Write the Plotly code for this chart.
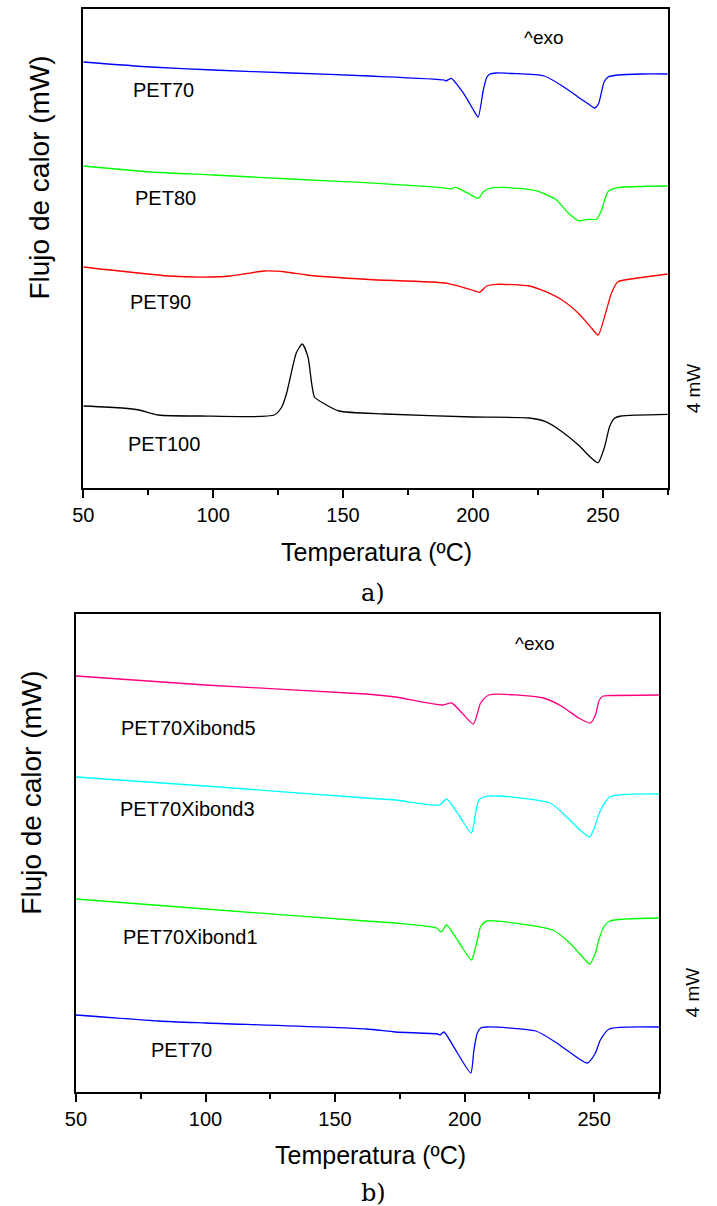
import plotly.graph_objects as go

# ---------------- Panel a) data (temperature in ºC, heat flow in arbitrary units, offset curves) ----------------
t_a_pet70 = [50, 76, 100, 130, 160, 188.9, 189.6, 191.6, 196.4, 200.2, 202, 204, 205.3, 206.6, 209, 215, 227.5, 235, 241, 244.5, 246.9, 248.3, 249.5, 250.5, 252, 255.8, 265, 275]
f_a_pet70 = [426, 421, 418, 415, 412, 408, 407, 409.7, 394.7, 378, 371, 398, 410.5, 414, 415, 414.5, 412, 401, 390, 384, 380, 384, 396, 406, 411, 413, 414, 414]

t_a_pet80 = [50, 76, 100, 130, 158.6, 190.1, 191.6, 193.3, 197.7, 202.1, 204, 206.6, 211.6, 224.2, 231.8, 236.8, 240.6, 244.4, 247.6, 249.5, 250.7, 252.0, 255.8, 275]
f_a_pet80 = [322, 316, 313, 309, 305.3, 299.7, 299, 300.7, 295.3, 289.7, 296.3, 299.7, 300.7, 297.3, 288.7, 274.7, 267.3, 268.7, 268.7, 278, 288, 296.3, 300.3, 302]

t_a_pet90 = [50, 83, 99, 106.7, 113, 119.5, 128, 136, 160, 190.1, 199.6, 202.5, 205.3, 209.1, 221.7, 228.0, 234.3, 240.6, 245.7, 248.2, 251.4, 253.3, 255.8, 258.3, 275]
f_a_pet90 = [221, 212, 211, 212, 214.5, 217, 216, 213, 208.5, 204.7, 198, 195.7, 202, 203.7, 202, 196.3, 188, 174.7, 159.7, 153, 178, 194.7, 206.3, 208, 214]

t_a_pet100 = [50, 65, 71.5, 79, 95, 123.5, 126.4, 128.3, 132, 134.3, 136.5, 139, 142.3, 148.4, 166, 200, 221.7, 228.0, 234.3, 240.6, 245.7, 248.2, 250.7, 252.6, 254.5, 257.0, 275]
f_a_pet100 = [82, 80, 78, 73, 72, 73, 81, 95, 135, 144, 131, 91, 85, 77, 74, 71, 70, 66.3, 56.3, 43, 29.7, 25.3, 41.3, 61.3, 69.7, 72, 73.7]

# ---------------- Panel b) data ----------------
t_b_x5 = [50, 100, 162, 173.3, 191.6, 195, 199, 203.4, 206.2, 209.4, 230.4, 237.8, 244.2, 248.6, 250.5, 252, 253.5, 256, 275]
f_b_x5 = [416, 407, 398, 395, 387, 389, 379, 368, 389, 397, 394, 385.3, 373.7, 369, 377, 392, 396, 396.5, 397]

t_b_x3 = [50, 100, 162, 173.3, 190.3, 193, 198, 202.6, 204.3, 205.5, 207.5, 212.5, 233, 240.6, 244.5, 248.3, 250.2, 252, 256, 275]
f_b_x3 = [315, 306, 294, 292, 287, 293, 276, 259, 280, 292, 295, 296, 289, 272, 262, 255, 265, 279, 295, 298]

t_b_x1 = [50, 100, 162, 173.3, 189.2, 191, 193, 198, 202.6, 204.9, 206.3, 208.7, 234, 240.6, 244.5, 248.3, 250.5, 251.8, 253.7, 256, 275]
f_b_x1 = [193, 183, 171, 169, 164, 160, 167, 149, 132, 152, 166, 171, 162, 149, 138, 128, 139, 152, 165, 171, 174]

t_b_pet70 = [50, 82, 100, 162, 173.3, 189.6, 190.5, 192, 197, 202.4, 203.6, 204.9, 206.2, 208.6, 227.5, 235, 241, 247.4, 250.5, 252.4, 255.8, 275]
f_b_pet70 = [77, 71, 69, 63, 60, 58, 57, 60, 40, 19, 42, 59, 64, 65, 61, 50, 39, 29, 39, 52, 63, 65]

labels_a = ["PET70", "PET80", "PET90", "PET100"]
labels_b = ["PET70Xibond5", "PET70Xibond3", "PET70Xibond1", "PET70"]
label_pos_a = [(80.9, 398), (81.7, 290), (79.8, 186), (80.9, 44)]
label_pos_b = [(93.3, 364), (93.0, 283), (94.1, 155), (90.7, 42)]

colors_a = ["#0000FF", "#00FF00", "#FF0000", "#000000"]
colors_b = ["#FF0080", "#00FFFF", "#00FF00", "#0000FF"]

series_a = [(t_a_pet70, f_a_pet70), (t_a_pet80, f_a_pet80), (t_a_pet90, f_a_pet90), (t_a_pet100, f_a_pet100)]
series_b = [(t_b_x5, f_b_x5), (t_b_x3, f_b_x3), (t_b_x1, f_b_x1), (t_b_pet70, f_b_pet70)]

W, H = 717, 1206
fig = go.Figure()

for (t, f), c, name in zip(series_a, colors_a, labels_a):
    fig.add_trace(go.Scatter(x=t, y=f, mode="lines", name=name, xaxis="x", yaxis="y",
                             line=dict(color=c, width=1.3, shape="spline", smoothing=0.6),
                             showlegend=False))
for (t, f), c, name in zip(series_b, colors_b, labels_b):
    fig.add_trace(go.Scatter(x=t, y=f, mode="lines", name=name, xaxis="x2", yaxis="y2",
                             line=dict(color=c, width=1.3, shape="spline", smoothing=0.6),
                             showlegend=False))

FONT = "Liberation Sans, Arial, sans-serif"

xcommon = dict(range=[50, 275], tickvals=[50, 100, 150, 200, 250], ticks="outside", ticklen=8,
               tickwidth=1.5, tickcolor="black", showline=True, linecolor="black", linewidth=2,
               mirror=True, showgrid=False, zeroline=False,
               tickfont=dict(family=FONT, size=20, color="black"),
               minor=dict(tickvals=[75, 125, 175, 225, 275], ticks="outside", ticklen=5,
                          tickwidth=1.5, tickcolor="black", showgrid=False))
ycommon = dict(showticklabels=False, ticks="", showline=True, linecolor="black", linewidth=2,
               mirror=True, showgrid=False, zeroline=False)

# plot area pixel positions
ax_a = (73.4, 667, 9, 488)     # left, right, top, bottom
ax_b = (66, 658, 614, 1092)

def dom(px):
    l, r, t, b = px
    return [l / W, r / W], [1 - b / H, 1 - t / H]

xa, ya = dom(ax_a)
xb, yb = dom(ax_b)

fig.update_layout(
    width=W, height=H, margin=dict(l=0, r=0, t=0, b=0),
    paper_bgcolor="white", plot_bgcolor="white",
    xaxis=dict(domain=xa, anchor="y", **xcommon),
    yaxis=dict(domain=ya, anchor="x", range=[0, 479], **ycommon),
    xaxis2=dict(domain=xb, anchor="y2", **xcommon),
    yaxis2=dict(domain=yb, anchor="x2", range=[0, 478], **ycommon),
)

ann = []
def add_text(x, y, xref, yref, text, size, angle=0, family=FONT):
    ann.append(dict(x=x, y=y, xref=xref, yref=yref, text=text, showarrow=False,
                    textangle=angle, xanchor="center", yanchor="middle",
                    font=dict(family=family, size=size, color="black")))

for name, (tx, ty) in zip(labels_a, label_pos_a):
    add_text(tx, ty, "x", "y", name, 20)
for name, (tx, ty) in zip(labels_b, label_pos_b):
    add_text(tx, ty, "x2", "y2", name, 20)

add_text(227.4, 451, "x", "y", "^exo", 19)
add_text(227.2, 449, "x2", "y2", "^exo", 19)

def paper(px, py):
    return px / W, 1 - py / H

for (px, py) in [(693, 388), (692, 992)]:
    x, y = paper(px, py)
    add_text(x, y, "paper", "paper", "4 mW", 19, -90)

for (px, py) in [(28, 178), (21, 793)]:
    x, y = paper(px, py)
    add_text(x, y, "paper", "paper", "Flujo de calor (mW)", 28, -90)

for (px, py) in [(371, 552), (365, 1155)]:
    x, y = paper(px, py)
    add_text(x, y, "paper", "paper", "Temperatura (ºC)", 25)

for (px, py, t) in [(368, 593, "a)"), (368, 1193, "b)")]:
    x, y = paper(px, py)
    add_text(x, y, "paper", "paper", t, 24, 0, "DejaVu Serif, Liberation Serif, serif")

fig.update_layout(annotations=ann)
fig.write_html("out.html")
